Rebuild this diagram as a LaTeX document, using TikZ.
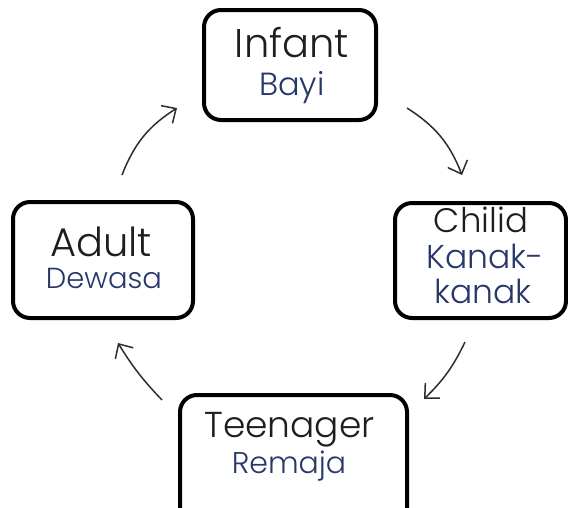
\documentclass[tikz,border=0pt]{standalone}
\usepackage{fontspec}
\setmainfont{Poppins}[UprightFont={* Light}]
\usetikzlibrary{arrows.meta}
\definecolor{txtblack}{RGB}{30,30,30}
\definecolor{txtblue}{RGB}{40,55,105}
\definecolor{arrowgray}{RGB}{45,45,45}
\tikzset{
  stagebox/.style={draw=black, line width=4pt, rounded corners=17pt, fill=white, inner sep=0pt},
  entext/.style={anchor=base, text=txtblack, inner sep=0pt, text height=0.72em, text depth=0pt},
  mytext/.style={anchor=base, text=txtblue, inner sep=0pt, text height=0.72em, text depth=0pt},
  desc/.style={text depth=0.2em},
  cyclearrow/.style={draw=arrowgray, line width=1.5pt, -{Straight Barb[length=11pt,width=21pt,line width=1.5pt]}}
}
\newcommand{\fsz}[1]{\fontsize{#1}{#1}\selectfont}
\begin{document}
\begin{tikzpicture}[x=1pt,y=1pt]
\useasboundingbox (0,0) rectangle (568,-507);
\clip (0,0) rectangle (568,-507);
% boxes
\node[stagebox, minimum width=172pt, minimum height=110pt] (infant) at (290,-65) {};
\node[stagebox, minimum width=171pt, minimum height=115pt] (child) at (480.5,-260.5) {};
\node[stagebox, minimum width=180pt, minimum height=116pt] (adult) at (103,-260) {};
\node[stagebox, minimum width=227pt, minimum height=130pt] (teen) at (293.5,-460) {};
% texts
\node[entext, font=\fsz{40}] (infantEn) at (292,-57) {Infant};
\node[mytext, desc, font=\fsz{32}] (infantMy) at (292,-95) {Bayi};
\node[entext, font=\fsz{34}] (childEn) at (481,-232) {Chilid};
\node[mytext, font=\fsz{33}] (childMy1) at (485,-268) {Kanak-};
\node[mytext, font=\fsz{33}] (childMy2) at (483,-303) {kanak};
\node[entext, font=\fsz{40}] (adultEn) at (101,-256) {Adult};
\node[mytext, font=\fsz{29}] (adultMy) at (104,-288) {Dewasa};
\node[entext, desc, font=\fsz{36}] (teenEn) at (289.5,-437) {Teenager};
\node[mytext, desc, font=\fsz{30}] (teenMy) at (289,-473) {Remaja};
% arrow ends
\coordinate (a1s) at (122,-175);
\coordinate (a1e) at (177,-108);
\coordinate (a2s) at (407,-108);
\coordinate (a2e) at (462,-175);
\coordinate (a3s) at (465,-342);
\coordinate (a3e) at (424,-399);
\coordinate (a4s) at (162,-400);
\coordinate (a4e) at (118,-343);
\draw[cyclearrow] (a1s) to[bend left=18] (a1e);
\draw[cyclearrow] (a2s) to[bend left=18] (a2e);
\draw[cyclearrow] (a3s) to[bend left=10] (a3e);
\draw[cyclearrow] (a4s) to[bend left=6] (a4e);
\end{tikzpicture}
\end{document}
